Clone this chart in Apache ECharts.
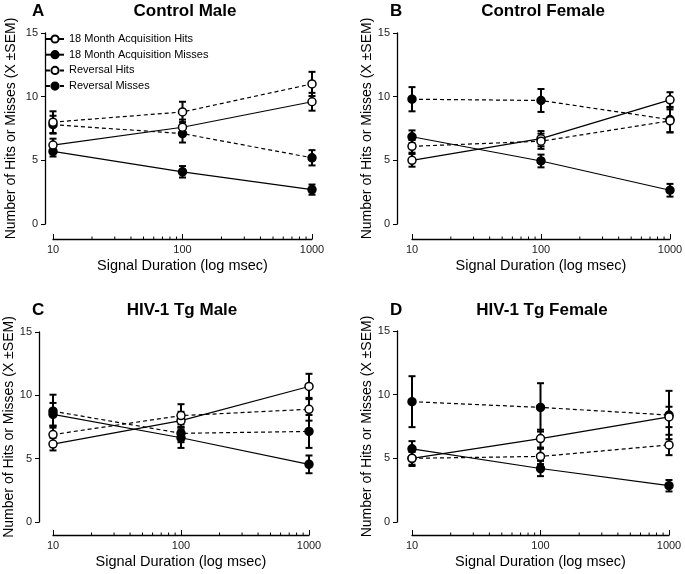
<!DOCTYPE html>
<html>
<head>
<meta charset="utf-8">
<script src="https://cdn.jsdelivr.net/npm/echarts@6/dist/echarts.min.js"></script>
<style>
  html, body { margin: 0; padding: 0; background: #fff; }
  #chart { width: 685px; height: 574px; }
</style>
</head>
<body>
<div id="chart"></div>
<script>
const durations = [10, 100, 1000];
const minorTickValues = [20, 30, 40, 50, 60, 70, 80, 90, 200, 300, 400, 500, 600, 700, 800, 900];
const seriesNames = ['18 Month Acquisition Hits', '18 Month Acquisition Misses', 'Reversal Hits', 'Reversal Misses'];
const panelTitles = ['Control Male', 'Control Female', 'HIV-1 Tg Male', 'HIV-1 Tg Female'];
const panelLetters = ['A', 'B', 'C', 'D'];

// means, rows follow seriesNames, columns follow durations
const controlMaleMeans = [[6.2, 7.6, 9.6], [5.7, 4.1, 2.7], [8.0, 8.8, 11.0], [7.8, 7.1, 5.2]];
const controlMaleSem = [[0.5, 0.6, 0.7], [0.4, 0.45, 0.4], [0.85, 0.8, 0.95], [0.7, 0.7, 0.6]];
const controlFemaleMeans = [[5.0, 6.7, 9.75], [6.85, 4.95, 2.65], [6.1, 6.5, 8.1], [9.8, 9.7, 8.2]];
const controlFemaleSem = [[0.5, 0.6, 0.6], [0.5, 0.5, 0.5], [0.5, 0.6, 0.9], [0.95, 0.9, 1.0]];
const tgMaleMeans = [[6.15, 8.0, 10.7], [8.5, 6.65, 4.55], [6.9, 8.4, 8.9], [8.75, 7.0, 7.15]];
const tgMaleSem = [[0.5, 0.7, 1.0], [0.9, 0.8, 0.7], [0.7, 0.9, 0.9], [1.3, 0.7, 1.3]];
const tgFemaleMeans = [[5.0, 6.55, 8.25], [5.75, 4.2, 2.85], [5.0, 5.15, 6.05], [9.45, 9.0, 8.4]];
const tgFemaleSem = [[0.6, 0.7, 0.8], [0.6, 0.6, 0.45], [0.5, 0.6, 0.8], [2.0, 1.9, 1.9]];

const panelMeans = [controlMaleMeans, controlFemaleMeans, tgMaleMeans, tgFemaleMeans];
const panelSems = [controlMaleSem, controlFemaleSem, tgMaleSem, tgFemaleSem];

const font = 'Liberation Sans, Arial, sans-serif';

// layout of each panel (pixels)
const layout = [
  { left: 53, top: 33, width: 259, height: 191, yOffset: 8, xOffset: 15, nameGap: 27, titleX: 180, letterX: 27, titleY: -2 },
  { left: 412, top: 33, width: 258, height: 191, yOffset: 15, xOffset: 15, nameGap: 21, titleX: 538, letterX: 385, titleY: -2 },
  { left: 53, top: 332, width: 256, height: 190, yOffset: 14, xOffset: 13, nameGap: 23, titleX: 177, letterX: 27, titleY: 297 },
  { left: 412, top: 331, width: 257, height: 191, yOffset: 15, xOffset: 13, nameGap: 21, titleX: 537, letterX: 385, titleY: 297 }
];

function errorBarItem(params, api) {
  const x = api.value(0);
  const top = api.coord([x, api.value(2)]);
  const bot = api.coord([x, api.value(1)]);
  const hw = 3.5;
  const st = { stroke: '#000', lineWidth: 2 };
  return {
    type: 'group',
    children: [
      { type: 'line', shape: { x1: top[0], y1: top[1], x2: bot[0], y2: bot[1] }, style: st },
      { type: 'line', shape: { x1: top[0] - hw, y1: top[1], x2: top[0] + hw, y2: top[1] }, style: st },
      { type: 'line', shape: { x1: bot[0] - hw, y1: bot[1], x2: bot[0] + hw, y2: bot[1] }, style: st }
    ]
  };
}

// log minor ticks, drawn upward from the offset x axis line
function minorTickItem(offset) {
  return function (params, api) {
    const p = api.coord([api.value(0), 0]);
    const y = Math.round(p[1] + offset) + 0.5;
    return {
      type: 'line',
      shape: { x1: p[0], y1: y, x2: p[0], y2: y - 3 },
      style: { stroke: '#000', lineWidth: 1 }
    };
  };
}

const grids = [], xAxes = [], yAxes = [], series = [], titles = [];

layout.forEach(function (l, p) {
  grids.push({ left: l.left, top: l.top, width: l.width, height: l.height, outerBoundsMode: 'none', containLabel: false });
  xAxes.push({
    type: 'log', gridIndex: p, min: 10, max: 1000, logBase: 10,
    offset: l.xOffset,
    name: 'Signal Duration (log msec)', nameLocation: 'middle', nameGap: 19,
    nameTextStyle: { fontFamily: font, fontSize: 14.5, color: '#000' },
    axisLine: { show: true, onZero: false, lineStyle: { color: '#000', width: 1.3 } },
    axisTick: { show: true, inside: true, length: 5, lineStyle: { color: '#000' } },
    axisLabel: { fontFamily: font, fontSize: 11, color: '#222', margin: 5, formatter: function (v) { return String(Math.round(v)); } },
    splitLine: { show: false }
  });
  yAxes.push({
    type: 'value', gridIndex: p, min: 0, max: 15, interval: 5,
    offset: l.yOffset,
    name: 'Number of Hits or Misses (X \u00B1SEM)', nameLocation: 'middle', nameGap: l.nameGap,
    nameTextStyle: { fontFamily: font, fontSize: 14, color: '#000' },
    axisLine: { show: true, onZero: false, lineStyle: { color: '#000', width: 1.3 } },
    axisTick: { show: true, length: 4, lineStyle: { color: '#000' } },
    axisLabel: { fontFamily: font, fontSize: 11, color: '#222', margin: 7 },
    splitLine: { show: false }
  });
  titles.push({
    text: panelTitles[p], left: l.titleX, top: l.titleY, textAlign: 'center',
    textStyle: { fontFamily: font, fontSize: 17, fontWeight: 'bold', color: '#000' }
  });
  titles.push({
    text: panelLetters[p], left: l.letterX, top: l.titleY,
    textStyle: { fontFamily: font, fontSize: 17, fontWeight: 'bold', color: '#000' }
  });

  series.push({
    type: 'custom', xAxisIndex: p, yAxisIndex: p, silent: true, clip: false, z: 1,
    data: minorTickValues.map(function (v) { return [v]; }),
    encode: { x: 0 },
    renderItem: minorTickItem(l.xOffset)
  });

  seriesNames.forEach(function (name, s) {
    const means = panelMeans[p][s];
    const sems = panelSems[p][s];
    const open = s % 2 === 0;
    const dashed = s >= 2;
    series.push({
      type: 'custom', xAxisIndex: p, yAxisIndex: p, silent: true, clip: false, z: 2,
      data: durations.map(function (d, i) { return [d, means[i] - sems[i], means[i] + sems[i]]; }),
      encode: { x: 0, y: [1, 2] },
      renderItem: errorBarItem
    });
    series.push({
      name: name, type: 'line', xAxisIndex: p, yAxisIndex: p, z: 3 + (open ? 1 : 0),
      data: durations.map(function (d, i) { return [d, means[i]]; }),
      symbol: 'circle', symbolSize: 8, showAllSymbol: true, clip: false,
      lineStyle: { color: '#000', width: 1.2, type: dashed ? [4, 3] : 'solid' },
      itemStyle: { color: open ? '#fff' : '#000', borderColor: '#000', borderWidth: 1.5 },
      emphasis: { disabled: true },
      animation: false
    });
  });
});

const chart = echarts.init(document.getElementById('chart'));
chart.setOption({
  animation: false,
  backgroundColor: '#fff',
  title: titles,
  legend: {
    data: seriesNames, orient: 'vertical', left: 40, top: 28,
    itemWidth: 18, itemHeight: 9, itemGap: 3.7,
    textStyle: { fontFamily: font, fontSize: 11, lineHeight: 12, color: '#000' }
  },
  grid: grids,
  xAxis: xAxes,
  yAxis: yAxes,
  series: series
});
</script>
</body>
</html>
